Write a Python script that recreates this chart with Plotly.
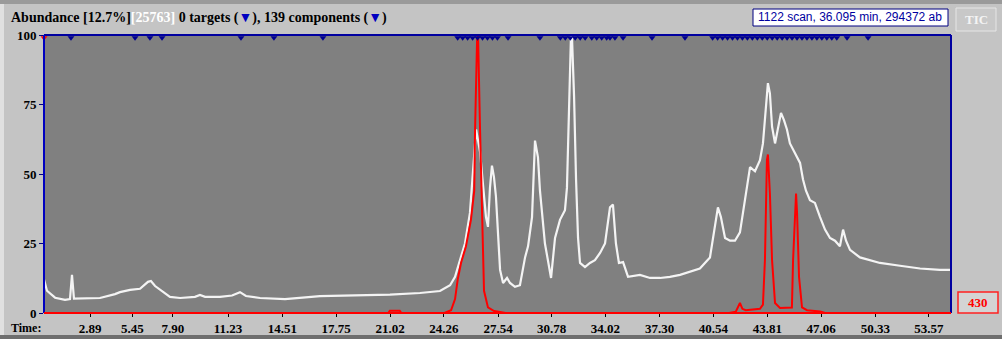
import plotly.graph_objects as go

# ---------------- data ----------------
tic_time = [0.11, 0.29, 0.78, 1.38, 1.68, 1.80, 1.92, 2.29, 3.49, 4.40, 4.70, 5.31, 5.91, 6.39, 6.57,
            6.82, 7.12, 7.72, 8.33, 9.23, 9.53, 9.84, 10.74, 11.47, 11.95, 12.31, 13.16, 14.67, 16.78,
            19.20, 21.01, 22.82, 24.03, 24.64, 24.94, 25.24, 25.54, 25.84, 26.09, 26.21, 26.33, 26.45,
            26.57, 26.81, 26.93, 27.05, 27.17, 27.29, 27.41, 27.54, 27.66, 27.84, 28.08, 28.26, 28.56,
            28.86, 29.17, 29.35, 29.59, 29.77, 29.95, 30.07, 30.37, 30.74, 30.98, 31.28, 31.58, 31.70,
            31.82, 31.94, 32.00, 32.13, 32.25, 32.37, 32.49, 32.79, 33.09, 33.39, 33.70, 34.00, 34.30,
            34.48, 34.66, 34.84, 35.09, 35.39, 36.11, 36.72, 37.32, 37.92, 38.53, 39.13, 39.73, 40.34,
            40.64, 40.82, 41.00, 41.25, 41.55, 41.85, 42.15, 42.45, 42.76, 43.06, 43.36, 43.54, 43.72,
            43.84, 43.96, 44.09, 44.27, 44.45, 44.63, 44.81, 44.99, 45.17, 45.48, 45.78, 45.96, 46.14,
            46.38, 46.68, 46.99, 47.29, 47.59, 47.89, 48.19, 48.38, 48.56, 48.80, 49.40, 50.01, 50.61,
            51.82, 53.03, 54.23, 54.90]
tic_abund = [12.0, 8.0, 5.5, 4.7, 5.0, 13.7, 5.2, 5.2, 5.4, 6.8, 7.5, 8.3, 8.7, 11.2, 11.5,
             9.7, 8.3, 5.8, 5.4, 5.8, 6.5, 5.8, 5.8, 6.3, 7.5, 6.1, 5.4, 5.0, 6.1,
             6.5, 6.6, 7.2, 7.9, 10.0, 13.0, 19.0, 25.0, 36.0, 55.0, 66.0, 62.0, 58.0,
             50.0, 34.5, 31.0, 45.0, 53.0, 49.0, 42.0, 27.0, 15.5, 10.8, 12.6, 10.8, 9.4,
             10.0, 20.0, 24.0, 34.5, 62.0, 56.0, 44.0, 25.0, 12.6, 27.0, 33.5, 37.0, 45.0,
             72.0, 99.0, 100.0, 78.0, 48.0, 27.0, 18.0, 16.5, 18.0, 19.0, 21.6, 25.0, 38.0,
             39.0, 25.0, 18.0, 18.3, 13.0, 13.7, 12.6, 12.6, 13.0, 13.7, 14.8, 16.0, 20.0,
             31.0, 38.0, 34.5, 27.0, 26.0, 26.0, 29.0, 40.6, 52.5, 51.0, 55.0, 61.0, 73.0,
             82.7, 79.0, 67.0, 61.0, 67.0, 72.0, 69.4, 66.0, 61.0, 57.5, 54.0, 48.0, 44.0,
             40.6, 39.6, 34.5, 30.0, 27.0, 26.0, 24.0, 30.0, 26.0, 22.7, 20.0, 19.0, 18.0,
             17.0, 16.0, 15.5, 15.5]

ion_time = [0.11, 20.90, 21.00, 21.60, 21.70, 24.30, 24.70, 24.94, 25.10, 25.30, 25.60, 25.90,
            26.10, 26.15, 26.27, 26.33, 26.45, 26.57, 26.69, 26.93, 27.30, 28.00, 41.50, 41.90,
            42.15, 42.30, 42.50, 43.36, 43.54, 43.66, 43.78, 43.84, 43.96, 44.09, 44.27, 44.57,
            45.29, 45.36, 45.48, 45.54, 45.60, 45.72, 45.90, 46.20, 47.00, 47.30, 54.90]
ion_abund = [0.0, 0.0, 0.8, 0.8, 0.0, 0.0, 1.0, 5.0, 12.0, 18.0, 24.0, 33.5,
             44.0, 66.0, 98.0, 100.0, 66.0, 34.5, 8.0, 2.0, 0.7, 0.0, 0.0, 0.5,
             3.6, 1.5, 1.0, 1.5, 3.0, 19.0, 55.0, 57.0, 43.0, 19.0, 3.6, 1.8,
             2.0, 19.0, 39.6, 43.0, 36.0, 13.0, 2.0, 1.0, 0.5, 0.0, 0.0]

component_times = [1.74, 5.61, 6.51, 7.24, 12.01, 14.00, 16.96,
                   25.1, 25.4, 25.7, 26.0, 26.3, 26.6, 26.9, 27.2, 27.5, 28.14, 30.07,
                   31.3, 31.6, 31.9, 32.2, 32.5, 32.8, 33.2, 33.5, 33.8, 34.1, 34.3, 34.6, 35.09,
                   36.84, 38.83,
                   40.5, 40.8, 41.1, 41.4, 41.7, 42.0, 42.3, 42.6, 42.9, 43.2, 43.5, 43.8, 44.1,
                   44.4, 44.7, 45.0, 45.3, 45.6, 45.9, 46.2, 46.5, 46.8, 47.1, 47.4, 47.7, 48.0,
                   48.62, 49.89]

tick_vals = [2.89, 5.45, 7.90, 11.23, 14.51, 17.75, 21.02, 24.26, 27.54, 30.78, 34.02,
             37.30, 40.54, 43.81, 47.06, 50.33, 53.57]
tick_text = ["2.89", "5.45", "7.90", "11.23", "14.51", "17.75", "21.02", "24.26", "27.54",
             "30.78", "34.02", "37.30", "40.54", "43.81", "47.06", "50.33", "53.57"]
y_ticks = [0, 25, 50, 75, 100]

# ---------------- geometry helpers ----------------
W, H = 1002, 339
L, R, T, B = 44, 951, 35, 313


def px(x):
    return (x - L) / (R - L)


def py(y):
    return (B - y) / (B - T)


fig = go.Figure()

fig.add_trace(go.Scatter(x=tic_time, y=tic_abund, mode="lines",
                         line=dict(color="#f4f4f4", width=2.2), hoverinfo="skip"))
fig.add_trace(go.Scatter(x=ion_time, y=ion_abund, mode="lines",
                         line=dict(color="#ff0000", width=2), hoverinfo="skip"))
fig.add_trace(go.Scatter(x=component_times, y=[99.0] * len(component_times), mode="markers",
                         marker=dict(symbol="triangle-down", size=6, color="#000090"),
                         cliponaxis=False, hoverinfo="skip"))
fig.add_trace(go.Scatter(x=[0.11], y=[99.0], mode="markers",
                         marker=dict(symbol="triangle-down", size=6, color="#ff0000"),
                         cliponaxis=False, hoverinfo="skip"))

shapes = []
shapes.append(dict(type="rect", xref="paper", yref="paper", x0=px(0), x1=px(W), y0=py(0), y1=py(4),
                   fillcolor="#9a9a9a", line=dict(width=0), layer="below"))
shapes.append(dict(type="rect", xref="paper", yref="paper", x0=px(0), x1=px(W), y0=py(335), y1=py(339),
                   fillcolor="#6e6e6e", line=dict(width=0), layer="below"))
shapes.append(dict(type="rect", xref="paper", yref="paper", x0=px(0), x1=px(4), y0=py(4), y1=py(335),
                   fillcolor="#e0e0e0", line=dict(width=0), layer="below"))
shapes.append(dict(type="line", xref="paper", yref="paper", x0=0, x1=1, y0=1, y1=1,
                   line=dict(color="#0000a0", width=2)))
shapes.append(dict(type="line", xref="paper", yref="paper", x0=0, x1=0, y0=0, y1=1,
                   line=dict(color="#0000c0", width=2)))
shapes.append(dict(type="line", xref="paper", yref="paper", x0=1, x1=1, y0=0, y1=1,
                   line=dict(color="#0000a0", width=2)))
shapes.append(dict(type="line", xref="paper", yref="paper", x0=0, x1=1, y0=0, y1=0,
                   line=dict(color="#ff0000", width=2)))
shapes.append(dict(type="rect", xref="paper", yref="paper", x0=px(753), x1=px(948), y0=py(9), y1=py(26),
                   fillcolor="#ffffff", line=dict(color="#000080", width=1)))
shapes.append(dict(type="rect", xref="paper", yref="paper", x0=px(956), x1=px(996), y0=py(8), y1=py(31),
                   fillcolor="#c8c8c8", line=dict(color="#e6e6e6", width=1)))
shapes.append(dict(type="rect", xref="paper", yref="paper", x0=px(958), x1=px(998), y0=py(292), y1=py(313),
                   fillcolor="#d4d4d4", line=dict(color="#ff2020", width=1.5)))

serif = "Liberation Serif, Times New Roman, serif"
ann = []
ann.append(dict(xref="paper", yref="paper", x=px(9), y=py(18), xanchor="left", yanchor="middle",
                showarrow=False, font=dict(family=serif, size=14, color="#000000", weight="bold"),
                text="Abundance [12.7%]<span style='color:#ffffff'>[25763]</span> 0 targets "
                     "(<span style='color:#0000c0'>▼</span>), 139 components "
                     "(<span style='color:#0000c0'>▼</span>)"))
ann.append(dict(xref="paper", yref="paper", x=px(850), y=py(17.5), xanchor="center", yanchor="middle",
                showarrow=False, font=dict(family="Liberation Sans Narrow, Arial Narrow, Liberation Sans, sans-serif",
                                           size=12, color="#0000a0"),
                text="1122 scan, 36.095 min, 294372 ab"))
ann.append(dict(xref="paper", yref="paper", x=px(976), y=py(19.5), xanchor="center", yanchor="middle",
                showarrow=False, font=dict(family=serif, size=13, color="#f4f4f4", weight="bold"),
                text="TIC"))
ann.append(dict(xref="paper", yref="paper", x=px(978), y=py(302.5), xanchor="center", yanchor="middle",
                showarrow=False, font=dict(family=serif, size=13, color="#ff0000", weight="bold"),
                text="430"))
ann.append(dict(xref="paper", yref="paper", x=px(9), y=py(327.5), xanchor="left", yanchor="middle",
                showarrow=False, font=dict(family=serif, size=12, color="#000000", weight="bold"),
                text="Time:"))

fig.update_layout(
    width=W, height=H,
    margin=dict(l=L, r=W - R, t=T, b=H - B, pad=0, autoexpand=False),
    paper_bgcolor="#c4c4c4",
    plot_bgcolor="#808080",
    showlegend=False,
    shapes=shapes,
    annotations=ann,
    xaxis=dict(range=[0.11, 54.9], tickmode="array", tickvals=tick_vals, ticktext=tick_text,
               ticks="outside", ticklen=3, tickcolor="#000000", tickwidth=1, automargin=False,
               showgrid=False, zeroline=False, showline=False,
               tickfont=dict(family=serif, size=13, color="#000000", weight="bold")),
    yaxis=dict(range=[0, 100], tickmode="array", tickvals=y_ticks,
               ticktext=[str(v) for v in y_ticks], automargin=False,
               ticks="outside", ticklen=4, tickcolor="#000080", tickwidth=1,
               showgrid=False, zeroline=False, showline=False,
               tickfont=dict(family=serif, size=13, color="#000000", weight="bold")),
)

fig.write_html("out.html", config={"displayModeBar": False})

# remove the browser's default page margin so the figure sits at the window's corner
with open("out.html", "r", encoding="utf-8") as f:
    html = f.read()
html = html.replace("<body>", "<body style=\"margin:0;padding:0;overflow:hidden\">", 1)
with open("out.html", "w", encoding="utf-8") as f:
    f.write(html)
